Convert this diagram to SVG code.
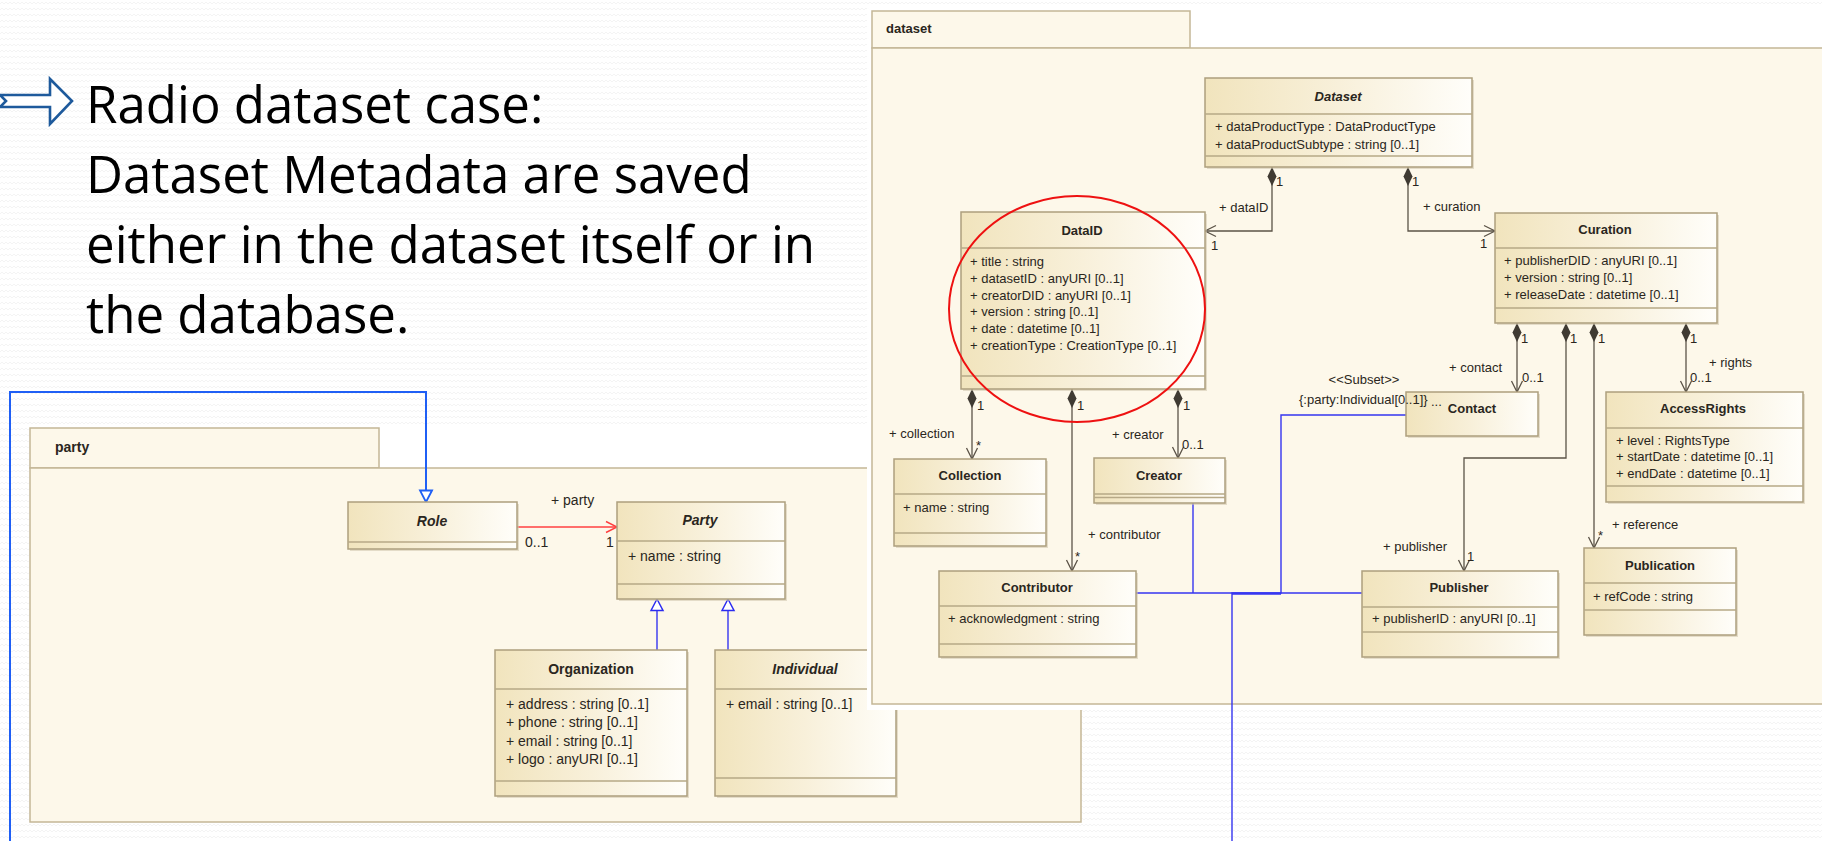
<svg xmlns="http://www.w3.org/2000/svg" width="1822" height="841" viewBox="0 0 1822 841">
<defs>
  <pattern id="bgWave" width="8" height="6" patternUnits="userSpaceOnUse">
    <path d="M0,4 L2,2 L4,4 L6,2 L8,4" fill="none" stroke="#f1f1f1" stroke-width="0.8"/>
  </pattern>
  <linearGradient id="clsFill" x1="0" y1="0" x2="1" y2="0">
    <stop offset="0" stop-color="#f1e4bd"/>
    <stop offset="0.5" stop-color="#f8f0da"/>
    <stop offset="1" stop-color="#fffefa"/>
  </linearGradient>
  <marker id="openArrow" markerUnits="userSpaceOnUse" markerWidth="14" markerHeight="14" refX="11" refY="6" orient="auto" overflow="visible">
    <path d="M0,0.5 L11,6 L0,11.5" fill="none" stroke="#5b5347" stroke-width="1.3"/>
  </marker>
  <marker id="openArrowRed" markerUnits="userSpaceOnUse" markerWidth="14" markerHeight="14" refX="11" refY="6" orient="auto" overflow="visible">
    <path d="M0,0.5 L11,6 L0,11.5" fill="none" stroke="#ff4040" stroke-width="1.4"/>
  </marker>
  <marker id="diamond" markerUnits="userSpaceOnUse" markerWidth="22" markerHeight="12" refX="0" refY="5" orient="auto" overflow="visible">
    <path d="M0,5 L9.5,0.5 L19,5 L9.5,9.5 Z" fill="#3f3a32"/>
  </marker>
  <marker id="hollowTri" markerUnits="userSpaceOnUse" markerWidth="14" markerHeight="14" refX="12" refY="6.5" orient="auto" overflow="visible">
    <path d="M0.5,0.5 L12,6.5 L0.5,12.5 Z" fill="#ffffff" stroke="#2b2bf0" stroke-width="1.5"/>
  </marker>
  <marker id="hollowTriBlue" markerUnits="userSpaceOnUse" markerWidth="14" markerHeight="14" refX="12" refY="6.5" orient="auto" overflow="visible">
    <path d="M0.5,0.5 L12,6.5 L0.5,12.5 Z" fill="#ffffff" stroke="#1f5ff5" stroke-width="1.8"/>
  </marker>
</defs>
<style>
  .title { font-family: "Open Sans", "Liberation Sans", sans-serif; font-size: 51px; fill: #000; }
  .t { font-family: "Liberation Sans", Arial, sans-serif; font-size: 13px; fill: #2a2620; }
  .tp { font-family: "Liberation Sans", Arial, sans-serif; font-size: 14px; fill: #2a2620; }
  .nm { font-weight: bold; text-anchor: middle; }
  .it { font-style: italic; }
  .box { fill: url(#clsFill); stroke: #ad9f7e; stroke-width: 1.5; }
  .sh { fill: #cfc5ab; opacity: 0.55; }
  .dv { fill: none; stroke: #b7a987; stroke-width: 1.5; }
  .pkg { fill: #fdf8ea; stroke: #c4b796; stroke-width: 1.5; }
  .conn { fill: none; stroke: #5b5347; stroke-width: 1.3; }
  .blue { fill: none; stroke: #3535f0; stroke-width: 1.4; }
  .blueL { fill: none; stroke: #1f5ff5; stroke-width: 2; }
</style>

<!-- slide background -->
<rect x="0" y="0" width="1822" height="841" fill="#ffffff"/>
<rect x="0" y="0" width="1822" height="841" fill="url(#bgWave)"/>

<!-- heading -->
<g id="heading">
  <path d="M0,95 H50 V79 L72,101 L50,124 V107 H0 L6,101 Z" fill="#ffffff" stroke="#1e5a9c" stroke-width="2.6" stroke-linejoin="miter"/>
  <text class="title" x="86" y="123">Radio dataset case:</text>
  <text class="title" x="86" y="193">Dataset Metadata are saved</text>
  <text class="title" x="86" y="263">either in the dataset itself or in</text>
  <text class="title" x="86" y="333">the database.</text>
</g>

<!-- party package -->
<g id="pkg-party">
  <rect x="379" y="426" width="702" height="42" fill="#ffffff"/>
  <rect class="pkg" x="30" y="428" width="349" height="40"/>
  <rect class="pkg" x="30" y="468" width="1051" height="354"/>
  <text class="tp" x="55" y="452" font-weight="bold">party</text>
</g>

<g id="party-connectors">
  <path d="M10,841 V392 H426 V502" class="blueL" marker-end="url(#hollowTriBlue)"/>
  <path d="M517,527 H617" fill="none" stroke="#ff4040" stroke-width="1.4" marker-end="url(#openArrowRed)"/>
  <path d="M657,650 V599" class="blue" marker-end="url(#hollowTri)"/>
  <path d="M728,650 V599" class="blue" marker-end="url(#hollowTri)"/>
  <text class="tp" x="551" y="505">+ party</text>
  <text class="tp" x="525" y="546.5">0..1</text>
  <text class="tp" x="606" y="546.5">1</text>
</g>

<g id="cls-role">
  <rect class="sh" x="350" y="504" width="169" height="47"/>
  <rect class="box" x="348" y="502" width="169" height="47"/>
  <path class="dv" d="M348,542 H517"/>
  <text class="tp nm it" x="432" y="526">Role</text>
</g>

<g id="cls-party">
  <rect class="sh" x="619" y="504" width="168" height="97"/>
  <rect class="box" x="617" y="502" width="168" height="97"/>
  <path class="dv" d="M617,541 H785 M617,584 H785"/>
  <text class="tp nm it" x="700" y="525">Party</text>
  <text class="tp" x="628" y="560.5">+ name : string</text>
</g>

<g id="cls-organization">
  <rect class="sh" x="497" y="652" width="192" height="146"/>
  <rect class="box" x="495" y="650" width="192" height="146"/>
  <path class="dv" d="M495,689 H687 M495,781 H687"/>
  <text class="tp nm" x="591" y="674">Organization</text>
  <text class="tp" x="506" y="708.5">+ address : string [0..1]</text>
  <text class="tp" x="506" y="727">+ phone : string [0..1]</text>
  <text class="tp" x="506" y="745.5">+ email : string [0..1]</text>
  <text class="tp" x="506" y="764">+ logo : anyURI [0..1]</text>
</g>

<g id="cls-individual">
  <rect class="sh" x="717" y="652" width="181" height="146"/>
  <rect class="box" x="715" y="650" width="181" height="146"/>
  <path class="dv" d="M715,689 H896 M715,778 H896"/>
  <text class="tp nm it" x="805" y="674">Individual</text>
  <text class="tp" x="726" y="708.5">+ email : string [0..1]</text>
</g>

<!-- dataset package -->
<g id="pkg-dataset">
  <rect x="867" y="7" width="955" height="703" fill="#ffffff"/>
  <rect class="pkg" x="872" y="11" width="318" height="37"/>
  <rect class="pkg" x="872" y="48" width="960" height="656"/>
  <text class="t" x="886" y="33" font-weight="bold">dataset</text>
</g>

<g id="dataset-connectors">
  <path class="conn" d="M1272,167 V231 H1205" marker-start="url(#diamond)" marker-end="url(#openArrow)"/>
  <path class="conn" d="M1408,167 V231 H1495" marker-start="url(#diamond)" marker-end="url(#openArrow)"/>
  <path class="conn" d="M972,389 V459" marker-start="url(#diamond)" marker-end="url(#openArrow)"/>
  <path class="conn" d="M1072,389 V571" marker-start="url(#diamond)" marker-end="url(#openArrow)"/>
  <path class="conn" d="M1178,389 V458" marker-start="url(#diamond)" marker-end="url(#openArrow)"/>
  <path class="conn" d="M1517,323 V392" marker-start="url(#diamond)" marker-end="url(#openArrow)"/>
  <path class="conn" d="M1566,323 V458 H1464 V571" marker-start="url(#diamond)" marker-end="url(#openArrow)"/>
  <path class="conn" d="M1594,323 V548" marker-start="url(#diamond)" marker-end="url(#openArrow)"/>
  <path class="conn" d="M1686,323 V392" marker-start="url(#diamond)" marker-end="url(#openArrow)"/>

  <!-- role labels and multiplicities -->
  <text class="t" x="1276" y="186">1</text>
  <text class="t" x="1412" y="186">1</text>
  <text class="t" x="1219" y="212">+ dataID</text>
  <text class="t" x="1211" y="249.5">1</text>
  <text class="t" x="1423" y="210.5">+ curation</text>
  <text class="t" x="1480" y="248">1</text>

  <text class="t" x="977" y="409.5">1</text>
  <text class="t" x="1077" y="409.5">1</text>
  <text class="t" x="1183" y="409.5">1</text>
  <text class="t" x="889" y="438">+ collection</text>
  <text class="t" x="976" y="450" font-size="11">*</text>
  <text class="t" x="1112" y="438.5">+ creator</text>
  <text class="t" x="1182" y="448.5">0..1</text>
  <text class="t" x="1088" y="538.5">+ contributor</text>
  <text class="t" x="1075" y="561" font-size="11">*</text>

  <text class="t" x="1521" y="342.5">1</text>
  <text class="t" x="1570" y="342.5">1</text>
  <text class="t" x="1598" y="342.5">1</text>
  <text class="t" x="1690" y="342.5">1</text>
  <text class="t" x="1449" y="372">+ contact</text>
  <text class="t" x="1522" y="381.5">0..1</text>
  <text class="t" x="1709" y="367">+ rights</text>
  <text class="t" x="1690" y="381.5">0..1</text>
  <text class="t" x="1383" y="550.5">+ publisher</text>
  <text class="t" x="1467" y="560.5">1</text>
  <text class="t" x="1612" y="528.5">+ reference</text>
  <text class="t" x="1598" y="540" font-size="11">*</text>

  <!-- realisation links to the party package -->
  <path class="blue" d="M1406,415 H1281 V593 H1232 V841"/>
  <path class="blue" d="M1232,594 H1281" stroke-width="2.2"/>
  <path class="blue" d="M1136,593 H1362"/>
  <path class="blue" d="M1193,503 V593"/>
</g>

<g id="cls-dataset">
  <rect class="sh" x="1207" y="80" width="267" height="89"/>
  <rect class="box" x="1205" y="78" width="267" height="89"/>
  <path class="dv" d="M1205,114 H1472 M1205,156 H1472"/>
  <text class="t nm it" x="1338" y="100.5">Dataset</text>
  <text class="t" x="1215" y="131">+ dataProductType : DataProductType</text>
  <text class="t" x="1215" y="148.5">+ dataProductSubtype : string [0..1]</text>
</g>

<g id="cls-dataid">
  <rect class="sh" x="963" y="214" width="244" height="177"/>
  <rect class="box" x="961" y="212" width="244" height="177"/>
  <path class="dv" d="M961,248 H1205 M961,376 H1205"/>
  <text class="t nm" x="1082" y="234.5">DataID</text>
  <text class="t" x="970" y="266">+ title : string</text>
  <text class="t" x="970" y="283">+ datasetID : anyURI [0..1]</text>
  <text class="t" x="970" y="300">+ creatorDID : anyURI [0..1]</text>
  <text class="t" x="970" y="316">+ version : string [0..1]</text>
  <text class="t" x="970" y="333">+ date : datetime [0..1]</text>
  <text class="t" x="970" y="350">+ creationType : CreationType [0..1]</text>
</g>

<g id="cls-curation">
  <rect class="sh" x="1497" y="215" width="222" height="110"/>
  <rect class="box" x="1495" y="213" width="222" height="110"/>
  <path class="dv" d="M1495,248 H1717 M1495,308 H1717"/>
  <text class="t nm" x="1605" y="234">Curation</text>
  <text class="t" x="1504" y="265">+ publisherDID : anyURI [0..1]</text>
  <text class="t" x="1504" y="282">+ version : string [0..1]</text>
  <text class="t" x="1504" y="299">+ releaseDate : datetime [0..1]</text>
</g>

<g id="cls-collection">
  <rect class="sh" x="896" y="461" width="152" height="87"/>
  <rect class="box" x="894" y="459" width="152" height="87"/>
  <path class="dv" d="M894,494 H1046 M894,533 H1046"/>
  <text class="t nm" x="970" y="480">Collection</text>
  <text class="t" x="903" y="511.5">+ name : string</text>
</g>

<g id="cls-creator">
  <rect class="sh" x="1096" y="460" width="131" height="45"/>
  <rect class="box" x="1094" y="458" width="131" height="45"/>
  <path class="dv" d="M1094,494 H1225 M1094,497.5 H1225"/>
  <text class="t nm" x="1159" y="480">Creator</text>
</g>

<g id="cls-contributor">
  <rect class="sh" x="941" y="573" width="197" height="86"/>
  <rect class="box" x="939" y="571" width="197" height="86"/>
  <path class="dv" d="M939,606 H1136 M939,644 H1136"/>
  <text class="t nm" x="1037" y="592">Contributor</text>
  <text class="t" x="948" y="623">+ acknowledgment : string</text>
</g>

<g id="cls-contact">
  <rect class="sh" x="1408" y="394" width="132" height="44"/>
  <rect class="box" x="1406" y="392" width="132" height="44"/>
  <text class="t nm" x="1472" y="413">Contact</text>
</g>

<g id="cls-accessrights">
  <rect class="sh" x="1608" y="394" width="197" height="110"/>
  <rect class="box" x="1606" y="392" width="197" height="110"/>
  <path class="dv" d="M1606,428 H1803 M1606,486 H1803"/>
  <text class="t nm" x="1703" y="413">AccessRights</text>
  <text class="t" x="1616" y="444.5">+ level : RightsType</text>
  <text class="t" x="1616" y="461">+ startDate : datetime [0..1]</text>
  <text class="t" x="1616" y="478">+ endDate : datetime [0..1]</text>
</g>

<g id="cls-publisher">
  <rect class="sh" x="1364" y="573" width="196" height="86"/>
  <rect class="box" x="1362" y="571" width="196" height="86"/>
  <path class="dv" d="M1362,607 H1558 M1362,632 H1558"/>
  <text class="t nm" x="1459" y="592">Publisher</text>
  <text class="t" x="1372" y="623">+ publisherID : anyURI [0..1]</text>
</g>

<g id="cls-publication">
  <rect class="sh" x="1586" y="550" width="152" height="87"/>
  <rect class="box" x="1584" y="548" width="152" height="87"/>
  <path class="dv" d="M1584,583 H1736 M1584,610 H1736"/>
  <text class="t nm" x="1660" y="569.5">Publication</text>
  <text class="t" x="1593" y="601">+ refCode : string</text>
</g>

<!-- stereotype and constraint on the Contact subset link -->
<g id="subset-label">
  <text class="t" x="1364" y="384" font-size="9" text-anchor="middle">&lt;&lt;Subset&gt;&gt;</text>
  <text class="t" x="1299" y="404">{:party:Individual[0..1]}</text>
  <text class="t" x="1431" y="406" font-size="7">...</text>
</g>

<!-- highlight around DataID -->
<ellipse id="highlight" cx="1077" cy="309" rx="128" ry="113" fill="none" stroke="#ee1111" stroke-width="2"/>
</svg>
